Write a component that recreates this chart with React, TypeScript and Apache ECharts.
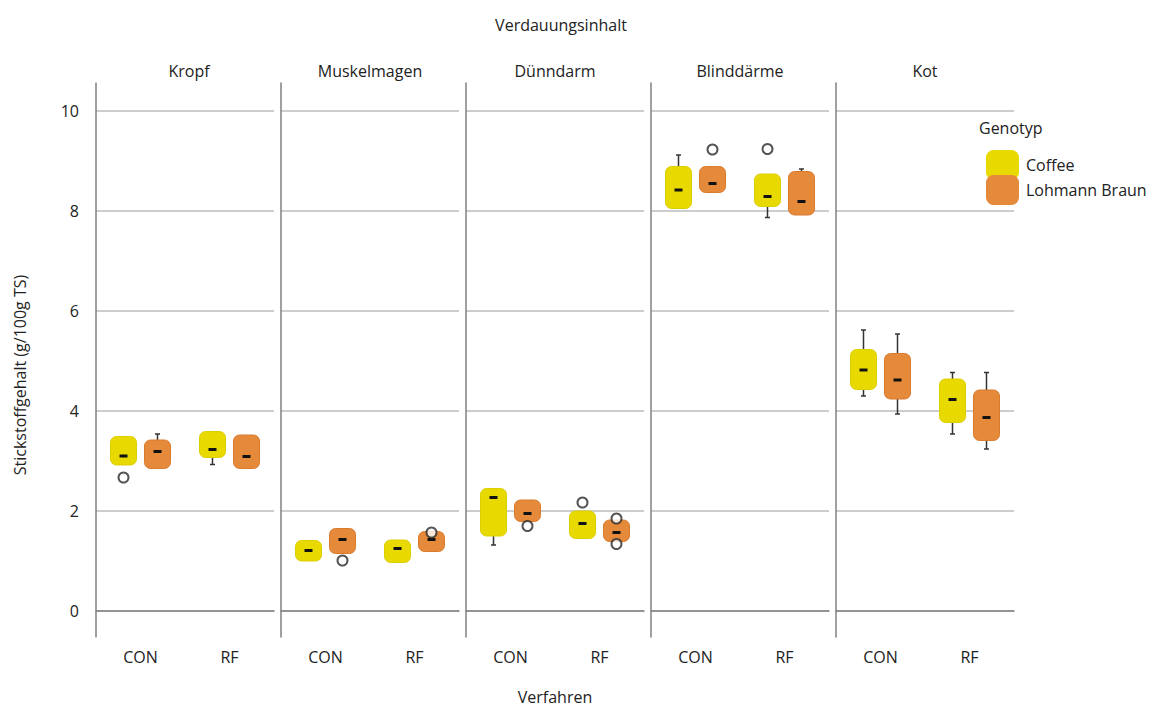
import React, { useEffect, useRef } from 'react';
import * as echarts from 'echarts';

const panels = ['Kropf', 'Muskelmagen', 'Dünndarm', 'Blinddärme', 'Kot'];
const categories = ['CON', 'RF'];
const genotypes = ['Coffee', 'Lohmann Braun'];

// [min, q1, median, q3, max] per panel, per category (CON, RF)
const coffeeBoxes = [
  [[2.92, 2.92, 3.1, 3.49, 3.49], [2.93, 3.07, 3.23, 3.59, 3.59]],
  [[1.0, 1.0, 1.21, 1.41, 1.41], [0.97, 0.97, 1.25, 1.42, 1.42]],
  [[1.32, 1.5, 2.27, 2.45, 2.45], [1.45, 1.45, 1.75, 2.0, 2.0]],
  [[8.05, 8.05, 8.42, 8.89, 9.12], [7.87, 8.09, 8.29, 8.74, 8.74]],
  [[4.3, 4.43, 4.82, 5.23, 5.62], [3.54, 3.77, 4.23, 4.64, 4.77]],
];
const lohmannBoxes = [
  [[2.85, 2.85, 3.19, 3.42, 3.54], [2.85, 2.85, 3.09, 3.52, 3.52]],
  [[1.15, 1.15, 1.43, 1.65, 1.65], [1.19, 1.19, 1.43, 1.59, 1.59]],
  [[1.79, 1.79, 1.95, 2.22, 2.22], [1.39, 1.39, 1.57, 1.82, 1.82]],
  [[8.37, 8.37, 8.55, 8.89, 8.89], [7.92, 7.92, 8.19, 8.79, 8.84]],
  [[3.94, 4.24, 4.62, 5.15, 5.54], [3.24, 3.41, 3.87, 4.42, 4.77]],
];
// outliers: [panel, category index, value]
const coffeeOutliers = [
  [0, 0, 2.67],
  [2, 1, 2.17],
  [3, 1, 9.24],
];
const lohmannOutliers = [
  [1, 0, 1.01],
  [1, 1, 1.57],
  [2, 0, 1.7],
  [2, 1, 1.85],
  [2, 1, 1.34],
  [3, 0, 9.23],
];

const FONT = '"Open Sans", sans-serif';
const YELLOW = '#E8DA00';
const YELLOW_BORDER = '#DCCF00';
const ORANGE = '#E5893B';
const ORANGE_BORDER = '#DA7B2C';
const OFFSET = 17;
const BOX_W = 26;

function makeRender(offset: number, fill: string, stroke: string) {
  return (params: any, api: any) => {
    const cat = api.value(0);
    const v = [1, 2, 3, 4, 5].map((i) => api.value(i));
    const p = v.map((val) => api.coord([cat, val]));
    const x = p[0][0] + offset;
    const yMin = p[0][1];
    const yQ1 = p[1][1];
    const yMed = p[2][1];
    const yQ3 = p[3][1];
    const yMax = p[4][1];
    const children: any[] = [];
    const ws = { stroke: '#333', lineWidth: 1.5 };
    if (v[4] > v[3]) {
      children.push({ type: 'line', shape: { x1: x, y1: yMax, x2: x, y2: yQ3 }, style: ws });
      children.push({ type: 'line', shape: { x1: x - 2.5, y1: yMax, x2: x + 2.5, y2: yMax }, style: ws });
    }
    if (v[0] < v[1]) {
      children.push({ type: 'line', shape: { x1: x, y1: yQ1, x2: x, y2: yMin }, style: ws });
      children.push({ type: 'line', shape: { x1: x - 2.5, y1: yMin, x2: x + 2.5, y2: yMin }, style: ws });
    }
    children.push({
      type: 'rect',
      shape: { x: x - BOX_W / 2, y: yQ3, width: BOX_W, height: yQ1 - yQ3, r: 6 },
      style: { fill, stroke, lineWidth: 1 },
    });
    children.push({
      type: 'rect',
      shape: { x: x - 4, y: yMed - 1.5, width: 8, height: 3 },
      style: { fill: '#111' },
    });
    return { type: 'group', children };
  };
}

export default function App() {
  const ref = useRef<HTMLDivElement>(null);
  useEffect(() => {
    if (!ref.current) return;
    const chart = echarts.init(ref.current, undefined, { renderer: 'svg' });
    const grids: any[] = [];
    const xAxes: any[] = [];
    const yAxes: any[] = [];
    const series: any[] = [];
    const graphics: any[] = [];
    panels.forEach((name, i) => {
      const left = 96 + 185 * i;
      grids.push({ left, top: 83, width: 178, height: 554 });
      xAxes.push({
        type: 'category',
        gridIndex: i,
        data: categories,
        axisLine: { lineStyle: { color: '#808080', width: 1.5 } },
        axisTick: { show: false },
        axisLabel: { fontSize: 16, margin: 12, color: '#222', fontFamily: FONT },
      });
      yAxes.push({
        type: 'value',
        gridIndex: i,
        min: -0.52,
        max: 10.56,
        splitNumber: 5,
        axisLine: { show: true, lineStyle: { color: '#808080', width: 1.5 } },
        axisTick: { show: false },
        axisLabel: {
          show: i === 0,
          fontSize: 16,
          margin: 17,
          color: '#222',
          fontFamily: FONT,
          showMinLabel: false,
          showMaxLabel: false,
        },
        splitLine: {
          show: true,
          showMinLine: false,
          showMaxLine: false,
          lineStyle: { color: '#cdcdcd', width: 2 },
        },
      });
      series.push({
        type: 'custom',
        name: genotypes[0],
        xAxisIndex: i,
        yAxisIndex: i,
        itemStyle: { color: YELLOW },
        renderItem: makeRender(-OFFSET, YELLOW, YELLOW_BORDER),
        encode: { x: 0, y: [1, 2, 3, 4, 5] },
        data: coffeeBoxes[i].map((b, c) => [c, ...b]),
      });
      series.push({
        type: 'custom',
        name: genotypes[1],
        xAxisIndex: i,
        yAxisIndex: i,
        itemStyle: { color: ORANGE },
        renderItem: makeRender(OFFSET, ORANGE, ORANGE_BORDER),
        encode: { x: 0, y: [1, 2, 3, 4, 5] },
        data: lohmannBoxes[i].map((b, c) => [c, ...b]),
      });
      const outlierStyle = { color: '#fff', borderColor: '#2a2a2a', borderWidth: 2 };
      series.push({
        type: 'scatter',
        xAxisIndex: i,
        yAxisIndex: i,
        symbol: 'circle',
        symbolSize: 10,
        symbolOffset: [-OFFSET, 0],
        itemStyle: outlierStyle,
        z: 5,
        data: coffeeOutliers.filter((o) => o[0] === i).map((o) => [o[1], o[2]]),
      });
      series.push({
        type: 'scatter',
        xAxisIndex: i,
        yAxisIndex: i,
        symbol: 'circle',
        symbolSize: 10,
        symbolOffset: [OFFSET, 0],
        itemStyle: outlierStyle,
        z: 5,
        data: lohmannOutliers.filter((o) => o[0] === i).map((o) => [o[1], o[2]]),
      });
      graphics.push({
        type: 'text',
        x: left + 89 + (i === 0 ? 4 : 0),
        y: 71,
        style: {
          text: name,
          fontSize: 16,
          fontFamily: FONT,
          fill: '#222',
          textAlign: 'center',
          textVerticalAlign: 'middle',
        },
      });
    });
    graphics.push(
      {
        type: 'text',
        x: 561,
        y: 25,
        style: { text: 'Verdauungsinhalt', fontSize: 16, fontFamily: FONT, fill: '#222', textAlign: 'center', textVerticalAlign: 'middle' },
      },
      {
        type: 'text',
        x: 555,
        y: 697,
        style: { text: 'Verfahren', fontSize: 16, fontFamily: FONT, fill: '#222', textAlign: 'center', textVerticalAlign: 'middle' },
      },
      {
        type: 'text',
        x: 20,
        y: 375,
        rotation: Math.PI / 2,
        style: { text: 'Stickstoffgehalt (g/100g TS)', fontSize: 16, fontFamily: FONT, fill: '#222', textAlign: 'center', textVerticalAlign: 'middle' },
      },
      {
        type: 'text',
        x: 979,
        y: 128,
        style: { text: 'Genotyp', fontSize: 16, fontFamily: FONT, fill: '#222', textAlign: 'left', textVerticalAlign: 'middle' },
      }
    );
    chart.setOption({
      animation: false,
      backgroundColor: '#fff',
      grid: grids,
      xAxis: xAxes,
      yAxis: yAxes,
      series,
      legend: {
        orient: 'vertical',
        left: 986,
        top: 150,
        padding: 0,
        itemWidth: 33,
        itemHeight: 30,
        itemGap: -5,
        icon: 'roundRect',
        selectedMode: false,
        data: [
          { name: genotypes[0], itemStyle: { color: YELLOW } },
          { name: genotypes[1], itemStyle: { color: ORANGE } },
        ],
        textStyle: { fontSize: 16, fontFamily: FONT, color: '#222', padding: [0, 0, 0, 2] },
      },
      graphic: graphics,
    });
    return () => chart.dispose();
  }, []);
  return (
    <div
      ref={ref}
      style={{ position: 'fixed', left: 0, top: 0, width: 1154, height: 709, background: '#fff' }}
    />
  );
}
